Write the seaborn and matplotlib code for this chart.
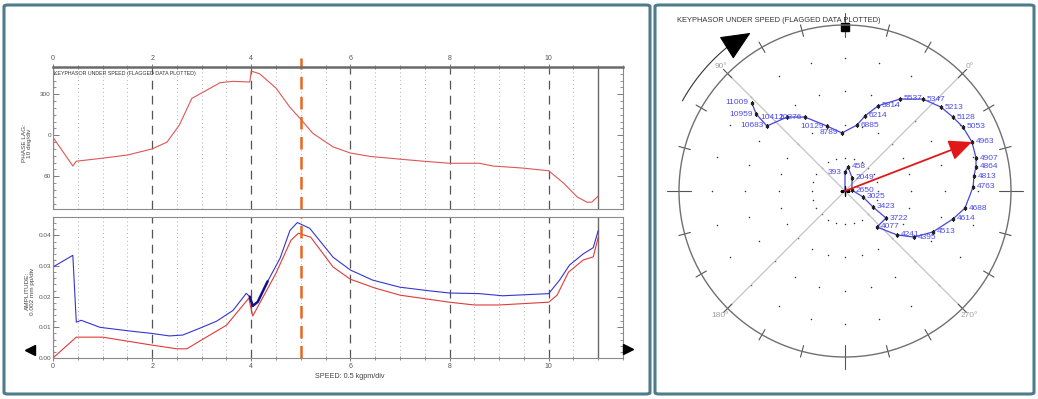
import numpy as np
import seaborn as sns
import matplotlib.pyplot as plt
from matplotlib.patches import FancyBboxPatch
from matplotlib.lines import Line2D
from matplotlib.ticker import MultipleLocator, FixedLocator, FuncFormatter

sns.set_style("white")
plt.rcParams['font.family'] = ['Liberation Sans', 'DejaVu Sans']

# Bode: phase lag (deg, unwrapped) vs speed
speed_phase = [0, 0.4, 0.47, 0.95, 1.5, 2.0, 2.3, 2.55, 2.8, 3.1, 3.37, 3.63, 3.97, 4.0,
               4.17, 4.5, 4.78, 4.98, 5.24, 5.65, 6.0, 6.4, 7.0, 7.47, 8.0, 8.6, 8.87,
               9.47, 10.0, 10.3, 10.57, 10.77, 10.87, 11.0]
phase_lag = [363, 405, 398, 394, 389, 380, 370, 345, 306, 294, 283, 281, 282, 266,
             270, 291, 319, 335, 357, 377, 386, 391, 395, 398, 401, 401, 405,
             408, 412, 430, 450, 458, 458, 449]

# Bode: direct amplitude (blue)
speed_direct = [0, 0.4, 0.47, 0.57, 0.95, 1.5, 2.0, 2.35, 2.62, 2.96, 3.3, 3.63, 3.9, 3.97,
                4.03, 4.13, 4.33, 4.58, 4.78, 4.93, 5.18, 5.65, 6.0, 6.45, 7.0, 7.55, 8.0,
                8.6, 9.07, 10.0, 10.22, 10.42, 10.7, 10.9, 11.0]
amp_direct = [0.0297, 0.0335, 0.0117, 0.0123, 0.0100, 0.0089, 0.0080, 0.0072, 0.0075, 0.0097,
              0.0120, 0.0155, 0.0211, 0.0200, 0.0170, 0.0183, 0.0250, 0.0325, 0.0416, 0.0442,
              0.0423, 0.0329, 0.0287, 0.0254, 0.0231, 0.0220, 0.0212, 0.0210, 0.0203, 0.0210,
              0.0254, 0.0303, 0.0340, 0.0360, 0.0416]

# Bode: filtered 1X amplitude (red)
speed_1x = [0, 0.47, 1.0, 1.5, 2.0, 2.5, 2.7, 3.0, 3.5, 3.95, 4.03, 4.5, 4.8, 4.95, 5.2,
            5.65, 6.0, 6.5, 7.0, 8.0, 8.5, 9.0, 10.0, 10.17, 10.4, 10.7, 10.9, 11.0]
amp_1x = [0.0, 0.0068, 0.0068, 0.0055, 0.0042, 0.0030, 0.0030, 0.0059, 0.0107, 0.0195,
          0.0137, 0.0277, 0.0384, 0.0407, 0.0394, 0.0297, 0.0257, 0.0228, 0.0205, 0.0182,
          0.0173, 0.0173, 0.0182, 0.0205, 0.0280, 0.0320, 0.0330, 0.0394]

speed_ticks = [0, 2, 4, 6, 8, 10]
marker_speed = 5.0
end_speed = 11.0

# Polar: labelled samples (rpm, phase lag deg, amplitude mm pp)
polar_rpm = [393, 458, 2049, 2650, 3025, 3423, 3722, 4077, 4241, 4395, 4513, 4614, 4688,
             4763, 4813, 4864, 4907, 4963, 5053, 5128, 5213, 5347, 5537, 5814, 6214, 6885,
             8789, 10129, 10276, 10412, 10683, 10959, 11009]
polar_phase = [45.0, 37.9, 16.7, 323.0, 296.6, 285.3, 281.6, 266.6, 274.8, 281.3, 290.0,
               300.5, 306.9, 316.8, 321.6, 325.4, 329.1, 336.1, 343.5, 349.4, 356.2, 4.7,
               14.1, 23.8, 30.1, 34.7, 48.0, 60.5, 73.4, 83.1, 95.2, 94.1, 91.6]
polar_amp = [0.0057, 0.0073, 0.0045, 0.0021, 0.0057, 0.0097, 0.0148, 0.0145, 0.0205, 0.0250,
             0.0292, 0.0336, 0.0365, 0.0386, 0.0391, 0.0401, 0.0407, 0.0410, 0.0404, 0.0394,
             0.0384, 0.0363, 0.0323, 0.0275, 0.0234, 0.0202, 0.0175, 0.0203, 0.0253, 0.0283,
             0.0306, 0.0354, 0.0386]
left_labels = {393, 8789, 10129, 10276, 10412, 10683, 10959, 11009}
arrow_rpm = 4963
polar_full_scale = 0.05

W, H = 1038, 399
fig = plt.figure(figsize=(W / 100, H / 100), dpi=100)


def fx(px):
    return px / W


def fy(py):
    return 1 - py / H


ax_ph = fig.add_axes([fx(53), fy(209), (623 - 53) / W, (209 - 67) / H])
ax_amp = fig.add_axes([fx(53), fy(358), (623 - 53) / W, (358 - 217) / H])

for ax in (ax_ph, ax_amp):
    ax.set_xlim(0, 11.5)
    for s in ax.spines.values():
        s.set_color('#8a8a8a')
        s.set_linewidth(0.8)
    ax.set_xticks(speed_ticks)
    ax.xaxis.set_minor_locator(MultipleLocator(0.5))
    ax.grid(axis='x', which='major', color='#555555', lw=0.9, ls=(0, (7, 5)))
    ax.grid(axis='x', which='minor', color='#b0b0b0', lw=0.7, ls=(0, (1, 3)))
    ax.grid(axis='y', visible=False)
    ax.tick_params(axis='both', which='both', colors='#666666', labelcolor='#555555')
    ax.tick_params(axis='y', which='both', direction='in', right=True, left=True,
                   labelsize=4.6, pad=1.5)
    ax.tick_params(axis='x', which='both', direction='inout', labelsize=5, pad=1.5)
    ax.tick_params(which='major', length=4, width=0.6)
    ax.tick_params(which='minor', length=2.5, width=0.5)
    ax.axvline(end_speed, color='#6a6a6a', lw=1)

# phase panel
ax_ph.xaxis.tick_top()
ax_ph.tick_params(axis='x', which='both', top=True, bottom=False)
ax_ph.spines['top'].set_linewidth(1.8)
ax_ph.spines['top'].set_color('#6a6a6a')
ax_ph.set_ylim(468, 260)
ax_ph.yaxis.set_major_locator(FixedLocator([300, 360, 420]))
ax_ph.yaxis.set_minor_locator(MultipleLocator(10))
ax_ph.yaxis.set_major_formatter(FuncFormatter(lambda v, p: f"{int(round(v)) % 360}"))
sns.lineplot(x=speed_phase, y=phase_lag, ax=ax_ph, color='#e05555', lw=0.8, legend=False)
ax_ph.axvline(marker_speed, ymax=1.06, clip_on=False, color='#e8671e', lw=1.8, dashes=(5, 3))
ax_ph.text(0.002, 0.955, 'KEYPHASOR UNDER SPEED (FLAGGED DATA PLOTTED)', transform=ax_ph.transAxes,
           fontsize=3.8, color='#333333', va='center', ha='left')

# amplitude panel
ax_amp.tick_params(axis='x', which='both', bottom=True, top=False)
ax_amp.set_ylim(0, 0.046)
ax_amp.yaxis.set_major_locator(MultipleLocator(0.01))
ax_amp.yaxis.set_minor_locator(MultipleLocator(0.002))
ax_amp.yaxis.set_major_formatter(FuncFormatter(lambda v, p: f"{v:.2f}"))
sns.lineplot(x=speed_1x, y=amp_1x, ax=ax_amp, color='#e03a3a', lw=0.8, legend=False)
sns.lineplot(x=speed_direct, y=amp_direct, ax=ax_amp, color='#3535d0', lw=0.8, legend=False)
hl = [(s, a) for s, a in zip(speed_direct, amp_direct) if 3.97 <= s <= 4.33]
ax_amp.plot([h[0] for h in hl], [h[1] for h in hl], color='#101090', lw=1.8)
ax_amp.axvline(marker_speed, color='#e8671e', lw=1.8, dashes=(5, 3))
for ax in (ax_ph, ax_amp):
    ax.set_xlabel('')
    ax.set_ylabel('')

fig.text(fx(27), fy(143), 'PHASE LAG:\n10 deg/div', rotation=90, ha='center', va='center',
         fontsize=4.6, color='#444444', linespacing=1.0)
fig.text(fx(30), fy(291), 'AMPLITUDE:\n0.002 mm pp/div', rotation=90, ha='center', va='center',
         fontsize=4.6, color='#444444', linespacing=1.0)
fig.text(fx(315), fy(377), 'SPEED: 0.5 kgpm/div', fontsize=5.2, color='#444444', va='center')
fig.add_artist(Line2D([fx(30)], [fy(350)], marker='<', ms=7, color='k', transform=fig.transFigure))
fig.add_artist(Line2D([fx(628)], [fy(349)], marker='>', ms=7, color='k', transform=fig.transFigure))

# polar plot
ax_pol = fig.add_axes([fx(679), fy(357), 332 / W, 332 / H], projection='polar')
ax_pol.set_theta_offset(np.pi / 4)
ax_pol.set_rlim(0, polar_full_scale)
ax_pol.set_xticks([])
ax_pol.set_yticks([])
ax_pol.grid(False)
ax_pol.spines['polar'].set_color('#707070')
ax_pol.spines['polar'].set_linewidth(1.0)

R = polar_full_scale
# dot grid
for rr in np.arange(1, 5) * R / 5:
    th = np.deg2rad(np.arange(0, 360, 15))
    ax_pol.scatter(th, np.full(th.shape, rr), s=1.2, color='#333333', lw=0)
# diagonal reference lines and angle labels
for a in (0, 90):
    t = np.deg2rad(a)
    ax_pol.plot([t, t + np.pi], [R, R], color='#c4c4c4', lw=0.9)
for a in (0, 90, 180, 270):
    ax_pol.text(np.deg2rad(a), R * 1.06, f'{a}°', fontsize=6, color='#a0a0a0',
                ha='center', va='center', clip_on=False)
# ticks on the outer circle
for s_ang in range(0, 360, 15):
    t = np.deg2rad(s_ang - 45)
    ext = 0.0035 if s_ang % 90 == 0 else 0.0018
    ax_pol.plot([t, t], [R - ext, R + ext], color='#555555', lw=0.8, clip_on=False)
# rotation arrow
arc_t = np.deg2rad(np.linspace(106, 84, 30))
ax_pol.plot(arc_t, np.full(arc_t.shape, R * 1.12), color='#333333', lw=0.8, clip_on=False)
ax_pol.annotate('', xy=(np.deg2rad(75), R * 1.11), xytext=(np.deg2rad(85), R * 1.12),
                arrowprops=dict(arrowstyle='-|>,head_length=1.0,head_width=0.45',
                                color='black', mutation_scale=19, lw=0.8),
                annotation_clip=False)
ax_pol.plot([np.deg2rad(45)], [R * 0.99], marker='s', ms=6, color='black', clip_on=False)

theta = np.deg2rad(polar_phase)
sns.lineplot(x=np.concatenate([[0], theta]), y=np.concatenate([[0], polar_amp]), ax=ax_pol,
             sort=False, color='#4545e0', lw=0.9, legend=False, estimator=None)
ax_pol.plot(theta, polar_amp, ls='none', marker='s', ms=2, color='#222222')
for rpm, t, a in zip(polar_rpm, theta, polar_amp):
    left = rpm in left_labels
    ax_pol.annotate(str(rpm), (t, a), xytext=(-2.5 if left else 2.5, 0), textcoords='offset points',
                    ha='right' if left else 'left', va='center', fontsize=6, color='#4b4be8')
ai = polar_rpm.index(arrow_rpm)
ax_pol.annotate('', xy=(theta[ai], polar_amp[ai]), xytext=(0, 0),
                arrowprops=dict(arrowstyle='-|>,head_length=1.0,head_width=0.45',
                                color='#e01818', lw=1.3, mutation_scale=14, shrinkA=0, shrinkB=0))
ax_pol.plot([0], [0], marker='+', ms=7, color='black', mew=1)
ax_pol.set_xlabel('')
ax_pol.set_ylabel('')
ax_pol.set_rlim(0, polar_full_scale)
fig.text(fx(677), fy(21), 'KEYPHASOR UNDER SPEED (FLAGGED DATA PLOTTED)', fontsize=5.45,
         color='#333333', va='center', ha='left')

# panel frames
for x0, x1 in ((4, 650), (655, 1034)):
    fig.add_artist(FancyBboxPatch((fx(x0), fy(394)), (x1 - x0) / W, (394 - 5) / H,
                                  boxstyle='round,pad=0,rounding_size=0.004', transform=fig.transFigure,
                                  fill=False, ec='#4d7d8b', lw=2.2))

fig.savefig('out.png', dpi=100)
